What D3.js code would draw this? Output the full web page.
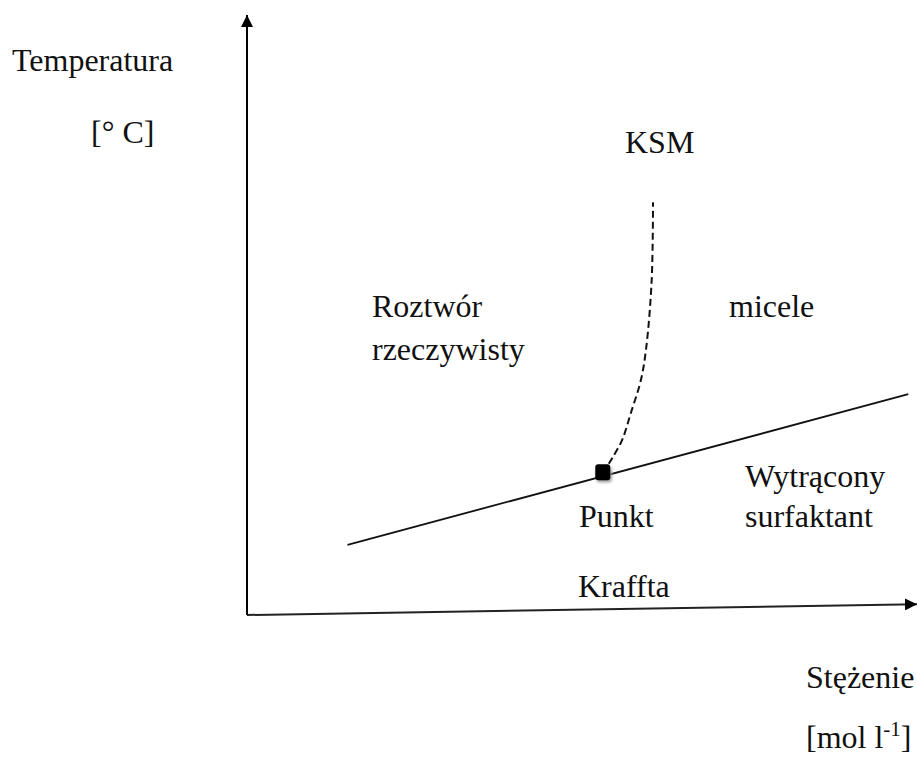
<!DOCTYPE html>
<html>
<head>
<meta charset="utf-8">
<script src="https://cdn.jsdelivr.net/npm/d3@7"></script>
<style>
  html, body { margin: 0; padding: 0; background: #fff; }
  svg { display: block; }
  text { font-family: "Liberation Serif", "Times New Roman", serif; fill: #111; }
</style>
</head>
<body>
<svg id="chart" width="917" height="760"></svg>
<script>
// Diagram fazowy surfaktantu: temperatura vs stężenie (schemat, bez podziałki)

// osie w jednostkach umownych 0..100
const axisX = [[0, 0], [100, 1.8]];          // oś stężenia (lekko pochylona)
const axisY = [[0, 0], [0, 100]];            // oś temperatury

// krzywa Kraffta (rozpuszczalność) – linia ciągła
const krafftLine = [[15, 11.7], [98.7, 36.8]];

// punkt Kraffta
const krafftPoint = [53.1, 23.8];

// KSM (krytyczne stężenie micelizacji) – linia przerywana
const cmcCurve = [
  [54.0, 25.2], [54.6, 26.3], [56.0, 29.2], [57.3, 33.7], [58.8, 39.2],
  [59.6, 44.7], [60.4, 55.8], [60.6, 68.8]
];

// podpisy
const labels = [
  { id: 'yTitle', text: 'Temperatura' },
  { id: 'yUnit', text: '[° C]' },
  { id: 'ksm', text: 'KSM' },
  { id: 'roz1', text: 'Roztwór' },
  { id: 'roz2', text: 'rzeczywisty' },
  { id: 'mic', text: 'micele' },
  { id: 'wyt1', text: 'Wytrącony' },
  { id: 'wyt2', text: 'surfaktant' },
  { id: 'pk1', text: 'Punkt' },
  { id: 'pk2', text: 'Kraffta' },
  { id: 'xTitle', text: 'Stężenie' }
];
const xUnit = { base: '[mol l', sup: '-1', end: ']' };

// układ (piksele)
const LAB_POS = {
  yTitle: [12, 71], yUnit: [91, 143], ksm: [625, 153],
  roz1: [372, 317], roz2: [372, 360], mic: [729, 317],
  wyt1: [745, 487], wyt2: [745, 527], pk1: [579, 527], pk2: [578, 597],
  xTitle: [806, 688], xUnit: [806, 748]
};

const svg = d3.select('#chart');
const x = d3.scaleLinear().domain([0, 100]).range([247, 917]);
const y = d3.scaleLinear().domain([0, 100]).range([615, 15]);
const line = d3.line().x(d => x(d[0])).y(d => y(d[1]));

const defs = svg.append('defs');
defs.append('marker')
  .attr('id', 'arr').attr('viewBox', '0 0 10 10')
  .attr('refX', 10).attr('refY', 5)
  .attr('markerWidth', 12).attr('markerHeight', 12)
  .attr('markerUnits', 'userSpaceOnUse')
  .attr('orient', 'auto')
  .append('path').attr('d', 'M0,0 L10,5 L0,10 Z').attr('fill', '#000');
const blur = defs.append('filter').attr('id', 'sh').attr('x', '-50%').attr('y', '-50%').attr('width', '200%').attr('height', '200%');
blur.append('feGaussianBlur').attr('stdDeviation', 1.5);

// osie
svg.append('path').attr('d', line(axisY))
  .attr('fill', 'none').attr('stroke', '#000').attr('stroke-width', 2)
  .attr('marker-end', 'url(#arr)');
svg.append('path').attr('d', line(axisX))
  .attr('fill', 'none').attr('stroke', '#222').attr('stroke-width', 2)
  .attr('marker-end', 'url(#arr)');

// linia Kraffta
svg.append('path').attr('d', line(krafftLine))
  .attr('fill', 'none').attr('stroke', '#111').attr('stroke-width', 1.8);

// KSM
svg.append('path').attr('d', line.curve(d3.curveCatmullRom)(cmcCurve))
  .attr('fill', 'none').attr('stroke', '#111').attr('stroke-width', 2)
  .attr('stroke-dasharray', '7 4');
line.curve(d3.curveLinear);

// punkt Kraffta (z cieniem)
const px = x(krafftPoint[0]), py = y(krafftPoint[1]);
svg.append('rect').attr('x', px - 6).attr('y', py - 5).attr('width', 15).attr('height', 15)
  .attr('rx', 3).attr('fill', '#999').attr('filter', 'url(#sh)');
svg.append('rect').attr('x', px - 7.5).attr('y', py - 8).attr('width', 15).attr('height', 16)
  .attr('rx', 3).attr('fill', '#000');

// podpisy
const gT = svg.append('g').style('font-size', '32px');
gT.selectAll('text.lab').data(labels).join('text')
  .attr('class', 'lab')
  .attr('x', d => LAB_POS[d.id][0]).attr('y', d => LAB_POS[d.id][1])
  .text(d => d.text);

const u = gT.append('text').attr('x', LAB_POS.xUnit[0]).attr('y', LAB_POS.xUnit[1]);
u.append('tspan').text(xUnit.base);
u.append('tspan').attr('dy', -12).style('font-size', '21px').text(xUnit.sup);
u.append('tspan').attr('dy', 12).text(xUnit.end);
</script>
</body>
</html>
